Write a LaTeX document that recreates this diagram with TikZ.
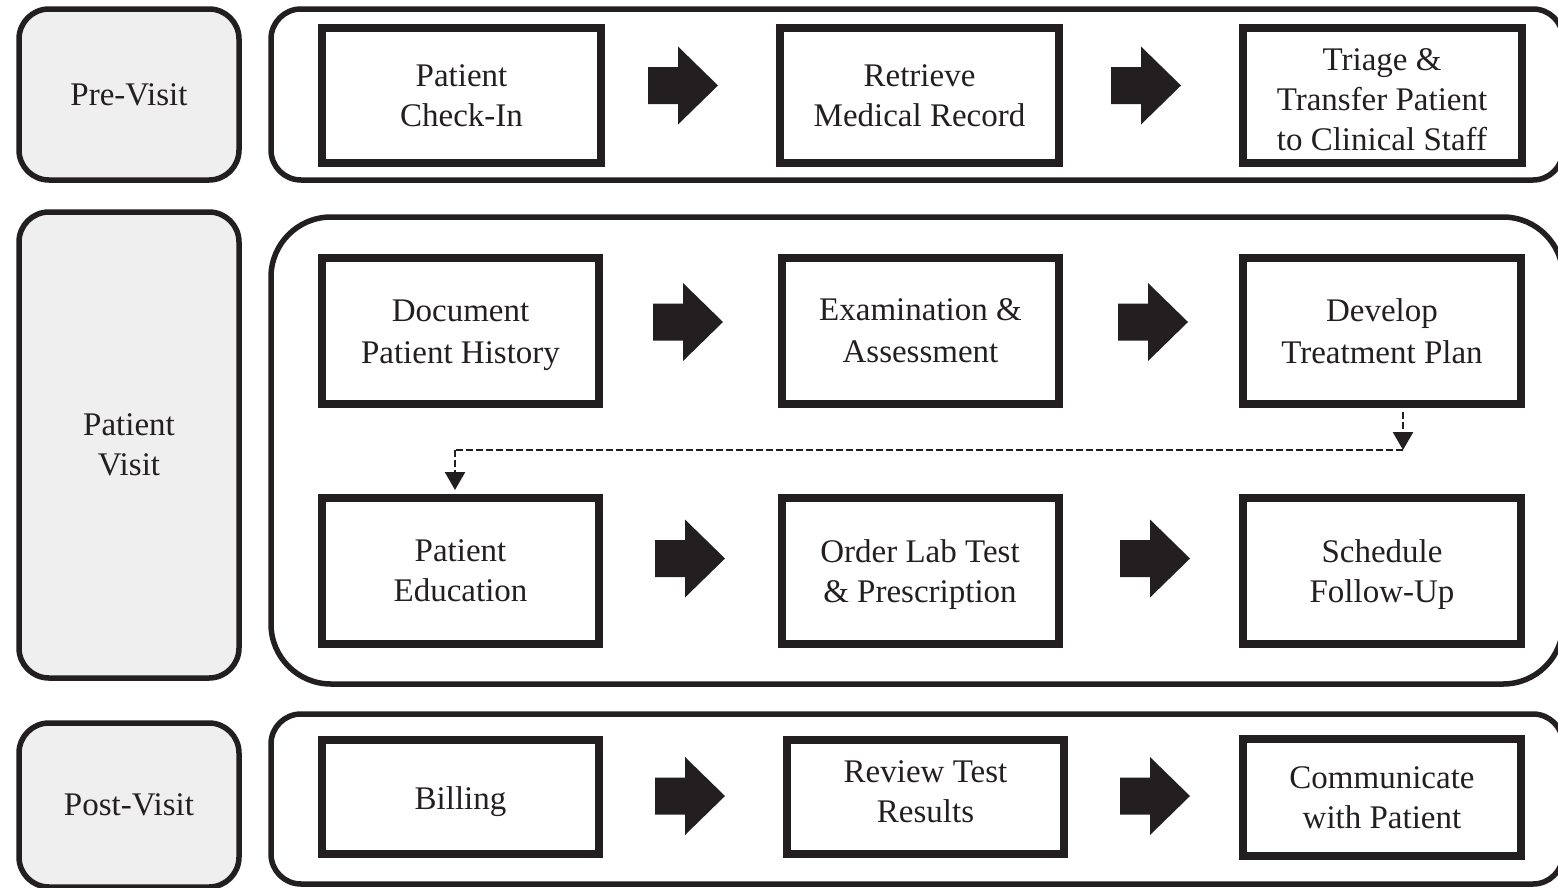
\documentclass[tikz,border=0pt]{standalone}
\usepackage{fontspec}
\setmainfont{Liberation Serif}
\usetikzlibrary{arrows.meta}
\definecolor{ink}{HTML}{231F20}
\definecolor{lbl}{HTML}{EFEFEF}
\newcommand\movedown[2]{\raisebox{0pt}[\dimexpr\height+#1*2\relax][\depth]{\begin{tabular}{@{}c@{}}#2\end{tabular}}}
\newcommand\moveup[2]{\raisebox{0pt}[\height][\dimexpr\depth+#1*2\relax]{\begin{tabular}{@{}c@{}}#2\end{tabular}}}
\tikzset{
  txt/.style={font=\fontsize{33}{40}\selectfont, text=ink, align=center},
  stepbox/.style={txt, draw=ink, line width=8pt, inner sep=0pt},
  phasebox/.style={txt, draw=ink, fill=lbl, line width=5.5pt, rounded corners=30pt, inner sep=0pt, minimum width=220pt},
  container/.style={draw=ink, line width=5.5pt},
  dashline/.style={draw=ink, line width=2.5pt, dash pattern=on 7pt off 3pt},
  tip/.style={-{Triangle[width=20pt,length=18pt]}},
  pics/blockarrow/.style={code={
    \fill[ink] (0,-18.5) -- (30,-18.5) -- (30,-39) -- (70,0) -- (30,39) -- (30,18.5) -- (0,18.5) -- cycle;}}
}
\begin{document}
\begin{tikzpicture}[x=1pt,y=-1pt]
\useasboundingbox (0,0) rectangle (1558,887);
% phase labels
\node[phasebox, minimum height=171pt] (pre) at (129,94.5) {Pre-Visit};
\node[phasebox, minimum height=466pt] (visit) at (129,445) {Patient\\Visit};
\node[phasebox, minimum height=164pt] (post) at (129,805) {Post-Visit};
% containers
\draw[container, rounded corners=30pt] (271,9) rectangle (1563,180);
\draw[container, rounded corners=60pt] (271,217) rectangle (1563,684);
\draw[container, rounded corners=30pt] (271,714) rectangle (1563,884);
% row 1
\node[stepbox, minimum width=279pt, minimum height=135pt] (checkin) at (461.5,95.5) {Patient\\Check-In};
\node[stepbox, minimum width=279pt, minimum height=135pt] (record) at (919.5,95.5) {Retrieve\\Medical Record};
\node[stepbox, minimum width=279pt, minimum height=135pt] (triage) at (1382,95.5) {\movedown{7pt}{Triage \&\\Transfer Patient\\to Clinical Staff}};
% row 2
\node[stepbox, minimum width=277pt, minimum height=146pt] (history) at (460.5,331) {\movedown{3pt}{Document\\[2pt]Patient History}};
\node[stepbox, minimum width=277pt, minimum height=146pt] (exam) at (920.5,331) {Examination \&\\[2pt]Assessment};
\node[stepbox, minimum width=278pt, minimum height=146pt] (plan) at (1382,331) {Develop\\[2pt]Treatment Plan};
% row 3
\node[stepbox, minimum width=277pt, minimum height=146pt] (edu) at (460.5,571) {Patient\\Education};
\node[stepbox, minimum width=277pt, minimum height=146pt] (lab) at (920,571) {\movedown{3pt}{Order Lab Test\\\& Prescription}};
\node[stepbox, minimum width=278pt, minimum height=146pt] (followup) at (1382,571) {\movedown{3pt}{Schedule\\Follow-Up}};
% row 4
\node[stepbox, minimum width=277pt, minimum height=114pt] (billing) at (460.5,797) {\movedown{4pt}{Billing}};
\node[stepbox, minimum width=277pt, minimum height=114pt] (review) at (925.5,797) {\moveup{3pt}{Review Test\\Results}};
\node[stepbox, minimum width=278pt, minimum height=117pt] (comm) at (1382,797.5) {Communicate\\with Patient};
% block arrows
\pic at (648,85.5) {blockarrow};
\pic at (1111,85.5) {blockarrow};
\pic at (653,322) {blockarrow};
\pic at (1118,322) {blockarrow};
\pic at (655,558.5) {blockarrow};
\pic at (1120,558.5) {blockarrow};
\pic at (655,796) {blockarrow};
\pic at (1120,796) {blockarrow};
% dashed connector
\coordinate (bendA) at (1403,450);
\coordinate (bendB) at (455,450);
\draw[dashline, tip] ([yshift=-4pt]plan.south -| bendA) -- (bendA);
\draw[dashline] (bendA) -- (bendB);
\draw[dashline, tip] (bendB) -- ([yshift=4pt]edu.north -| bendB);
\end{tikzpicture}
\end{document}
